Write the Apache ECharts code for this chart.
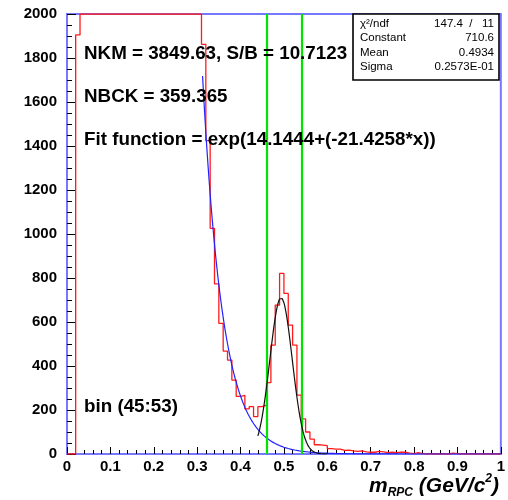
<!DOCTYPE html>
<html>
<head>
<meta charset="utf-8">
<script src="https://cdn.jsdelivr.net/npm/echarts@6/dist/echarts.min.js"></script>
<style>
html,body{margin:0;padding:0;background:#fff;}
#c{width:508px;height:500px;}
</style>
</head>
<body>
<div id="c"></div>
<script>
// ---- data ----
const binStart = 0.0;
const binWidth = 0.01;
// histogram contents (bins above 2000 are clipped at the frame top, as in the picture)
const binValues = [
  0, 0, 1905, 2000, 2000, 2000, 2000, 2000, 2000, 2000,
  2000, 2000, 2000, 2000, 2000, 2000, 2000, 2000, 2000, 2000,
  2000, 2000, 2000, 2000, 2000, 2000, 2000, 2000, 2000, 2000,
  2000, 1862, 1424, 1026, 773, 594, 468, 427, 336, 262,
  266, 205, 215, 170, 215, 222, 324, 495, 677, 821,
  730, 586, 495, 268, 160, 100, 68, 42, 40, 38,
  24, 22, 22, 16, 18, 14, 12, 14, 10, 8,
  8, 12, 10, 6, 8, 6, 8, 8, 4, 2,
  6, 2, 0, 2, 0, 0, 0, 0, 4, 2,
  0, 0, 0, 0, 0, 0, 0, 0, 0, 0
];
// exponential background fit: exp(p0 + p1*x)
const expParams = [14.1444, -21.4258];
const expRange = [0.3125, 1.0];
// gaussian fit: Constant, Mean, Sigma
const gausParams = [710.6, 0.4934, 0.02573];
const gausRange = [0.44, 0.60];
// signal window lines
const windowLines = [0.455, 0.535];
const xTicks = [0, 0.1, 0.2, 0.3, 0.4, 0.5, 0.6, 0.7, 0.8, 0.9, 1];
const yTicks = [0, 200, 400, 600, 800, 1000, 1200, 1400, 1600, 1800, 2000];
const statsRows = [
  ['χ²/ndf', '147.4  /   11'],
  ['Constant', '710.6'],
  ['Mean', '0.4934'],
  ['Sigma', '0.2573E-01']
];
const texts = ['NKM = 3849.63, S/B = 10.7123', 'NBCK = 359.365', 'Fit function = exp(14.1444+(-21.4258*x))', 'bin (45:53)'];

// ---- build series ----
const histData = binValues.map((v, i) => [binStart + i * binWidth, v]);
histData.push([binStart + binValues.length * binWidth, binValues[binValues.length - 1]]);

const expData = [];
for (let x = expRange[0]; x <= expRange[1] + 1e-9; x += 0.0025) {
  expData.push([x, Math.exp(expParams[0] + expParams[1] * x)]);
}
const gausData = [];
for (let x = gausRange[0]; x <= gausRange[1] + 1e-9; x += 0.002) {
  const t = (x - gausParams[1]) / gausParams[2];
  gausData.push([x, gausParams[0] * Math.exp(-0.5 * t * t)]);
}

const FONT = "'Liberation Sans', Arial, Helvetica, sans-serif";
const frameBlue = '#7878ff';

const chart = echarts.init(document.getElementById('c'), null, {renderer: 'canvas'});

const statsGraphics = [{
  type: 'rect', z: 100,
  shape: {x: 353, y: 14, width: 146, height: 66},
  style: {fill: '#fff', stroke: '#000', lineWidth: 1.6}
}];
statsRows.forEach((r, i) => {
  statsGraphics.push({type: 'text', z: 101, x: 360, y: 23.5 + i * 14.6,
    style: {text: r[0], font: '11.5px ' + FONT, fill: '#000', verticalAlign: 'middle', align: 'left'}});
  statsGraphics.push({type: 'text', z: 101, x: 494, y: 23.5 + i * 14.6,
    style: {text: r[1], font: '11.5px ' + FONT, fill: '#000', verticalAlign: 'middle', align: 'right'}});
});

const textYs = [53.5, 96.5, 140, 407];
const textGraphics = texts.map((t, i) => ({
  type: 'text', z: 50, x: 84, y: textYs[i],
  style: {text: t, font: 'bold 18.8px ' + FONT, fill: '#000', verticalAlign: 'middle', align: 'left'}
}));

chart.setOption({
  animation: false,
  backgroundColor: '#fff',
  grid: {left: 67, right: 7, top: 14, bottom: 46, show: true, borderColor: frameBlue, borderWidth: 2, backgroundColor: 'transparent'},
  xAxis: {
    type: 'value', min: 0, max: 1, interval: 0.1,
    axisLine: {show: true, lineStyle: {color: frameBlue, width: 2}},
    axisTick: {show: true, inside: true, length: 7, lineStyle: {color: '#000', width: 1}},
    minorTick: {show: true, splitNumber: 5, length: 4, lineStyle: {color: '#000', width: 1}},
    splitLine: {show: false},
    axisLabel: {color: '#000', fontSize: 15, fontWeight: 'bold', fontFamily: FONT, margin: 5,
      formatter: v => { const t = xTicks.find(k => Math.abs(k - v) < 1e-6); return t === undefined ? '' : String(t); }}
  },
  yAxis: {
    type: 'value', min: 0, max: 2000, interval: 200,
    axisLine: {show: true, lineStyle: {color: frameBlue, width: 2}},
    axisTick: {show: true, inside: true, length: 9, lineStyle: {color: '#000', width: 1}},
    minorTick: {show: true, splitNumber: 4, length: 5, lineStyle: {color: '#000', width: 1}},
    splitLine: {show: false},
    axisLabel: {color: '#000', fontSize: 15, fontWeight: 'bold', fontFamily: FONT, margin: 10,
      formatter: v => { const t = yTicks.find(k => Math.abs(k - v) < 1e-6); return t === undefined ? '' : String(t); }}
  },
  series: [
    {
      type: 'line', data: histData, step: 'end', showSymbol: false, symbol: 'none',
      lineStyle: {color: '#ff1a1a', width: 1.3}, z: 3, clip: true,
      markLine: {
        silent: true, symbol: 'none', label: {show: false},
        lineStyle: {color: '#00e400', width: 2.2, type: 'solid'},
        data: windowLines.map(x => ({xAxis: x}))
      }
    },
    {
      type: 'line', data: expData, showSymbol: false, symbol: 'none', smooth: false,
      lineStyle: {color: '#2222ff', width: 1.2}, z: 4, clip: true
    },
    {
      type: 'line', data: gausData, showSymbol: false, symbol: 'none', smooth: false,
      lineStyle: {color: '#111', width: 1.2}, z: 5, clip: true
    }
  ],
  graphic: [
    ...textGraphics,
    ...statsGraphics,
    {
      type: 'text', z: 50, x: 499, y: 486,
      style: {
        text: '{m|m}{s|RPC}{t| (GeV/c}{p|2}{t|)}',
        align: 'right', verticalAlign: 'middle',
        rich: {
          m: {font: 'italic bold 21px ' + FONT, fill: '#000', verticalAlign: 'middle', lineHeight: 26},
          s: {font: 'italic bold 12px ' + FONT, fill: '#000', verticalAlign: 'bottom', lineHeight: 26, padding: [0, 0, 0, 0]},
          t: {font: 'italic bold 21px ' + FONT, fill: '#000', verticalAlign: 'middle', lineHeight: 26},
          p: {font: 'italic bold 12px ' + FONT, fill: '#000', verticalAlign: 'top', lineHeight: 26}
        }
      }
    }
  ]
});
</script>
</body>
</html>
